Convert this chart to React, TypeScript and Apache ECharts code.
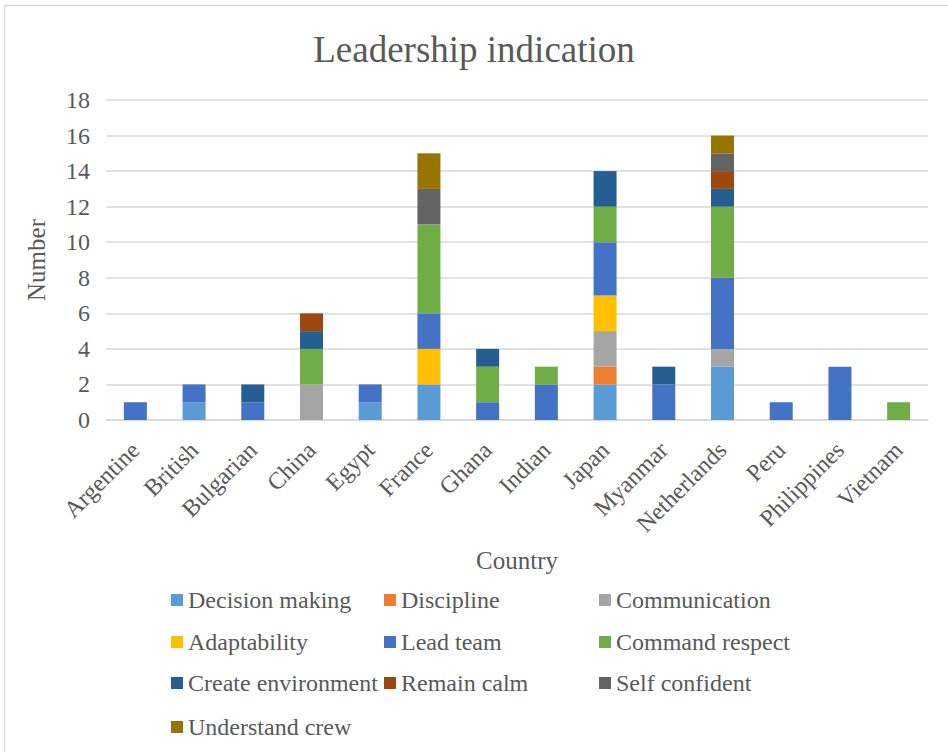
import React, { useEffect, useRef } from "react";
import * as echarts from "echarts";

const categories = [
  "Argentine", "British", "Bulgarian", "China", "Egypt", "France", "Ghana",
  "Indian", "Japan", "Myanmar", "Netherlands", "Peru", "Philippines", "Vietnam",
];

const decisionMaking = [0, 1, 0, 0, 1, 2, 0, 0, 2, 0, 3, 0, 0, 0];
const discipline = [0, 0, 0, 0, 0, 0, 0, 0, 1, 0, 0, 0, 0, 0];
const communication = [0, 0, 0, 2, 0, 0, 0, 0, 2, 0, 1, 0, 0, 0];
const adaptability = [0, 0, 0, 0, 0, 2, 0, 0, 2, 0, 0, 0, 0, 0];
const leadTeam = [1, 1, 1, 0, 1, 2, 1, 2, 3, 2, 4, 1, 3, 0];
const commandRespect = [0, 0, 0, 2, 0, 5, 2, 1, 2, 0, 4, 0, 0, 1];
const createEnvironment = [0, 0, 1, 1, 0, 0, 1, 0, 2, 1, 1, 0, 0, 0];
const remainCalm = [0, 0, 0, 1, 0, 0, 0, 0, 0, 0, 1, 0, 0, 0];
const selfConfident = [0, 0, 0, 0, 0, 2, 0, 0, 0, 0, 1, 0, 0, 0];
const understandCrew = [0, 0, 0, 0, 0, 2, 0, 0, 0, 0, 1, 0, 0, 0];

const seriesNames = [
  "Decision making", "Discipline", "Communication", "Adaptability", "Lead team",
  "Command respect", "Create environment", "Remain calm", "Self confident", "Understand crew",
];
const seriesData = [
  decisionMaking, discipline, communication, adaptability, leadTeam,
  commandRespect, createEnvironment, remainCalm, selfConfident, understandCrew,
];
const colors = [
  "#5B9BD5", "#ED7D31", "#A5A5A5", "#FFC000", "#4472C4",
  "#70AD47", "#255E91", "#9E480E", "#636363", "#997300",
];

const FONT = "'Liberation Serif', 'Times New Roman', serif";
const TEXT = "#595959";

const legendCols = [171, 384, 599];
const legendRows = [600, 642, 683, 727];

export default function App() {
  const ref = useRef<HTMLDivElement>(null);
  useEffect(() => {
    if (!ref.current) return;
    const chart = echarts.init(ref.current, undefined, { renderer: "svg" });
    const legends = seriesNames.map((name, i) => ({
      data: [name],
      left: legendCols[i % 3],
      top: legendRows[Math.floor(i / 3)] - 12,
      itemWidth: 12,
      itemHeight: 12,
      icon: "rect",
      selectedMode: false,
      padding: 0,
      textStyle: { fontFamily: FONT, fontSize: 24, color: TEXT, lineHeight: 24, padding: [0, 0, 0, 0] },
    }));
    chart.setOption({
      animation: false,
      backgroundColor: "#ffffff",
      color: colors,
      title: {
        text: "Leadership indication",
        left: "center",
        top: 26,
        textStyle: { fontFamily: FONT, fontSize: 37, fontWeight: "normal", color: TEXT },
      },
      legend: legends,
      graphic: [
        {
          type: "rect",
          shape: { x: 4.5, y: 5.5, width: 960, height: 800 },
          style: { fill: "none", stroke: "#D9D9D9", lineWidth: 1.5 },
          silent: true,
        },
      ],
      grid: { left: 106, right: 20, top: 100, bottom: 332 },
      xAxis: {
        type: "category",
        data: categories,
        name: "Country",
        nameLocation: "middle",
        nameGap: 128,
        nameTextStyle: { fontFamily: FONT, fontSize: 25, color: TEXT },
        axisLine: { lineStyle: { color: "#D9D9D9", width: 1.5 } },
        axisTick: { show: false },
        axisLabel: {
          rotate: 45,
          interval: 0,
          margin: 26,
          fontFamily: FONT,
          fontSize: 24,
          color: TEXT,
        },
      },
      yAxis: {
        type: "value",
        min: 0,
        max: 18,
        interval: 2,
        name: "Number",
        nameLocation: "middle",
        nameGap: 57,
        nameTextStyle: { fontFamily: FONT, fontSize: 25, color: TEXT },
        axisLine: { show: false },
        axisTick: { show: false },
        splitLine: { lineStyle: { color: "#D9D9D9", width: 1.5 } },
        axisLabel: { margin: 16, fontFamily: FONT, fontSize: 24, color: TEXT },
      },
      series: seriesNames.map((name, i) => ({
        name,
        type: "bar",
        stack: "total",
        barWidth: 23,
        data: seriesData[i],
        itemStyle: { color: colors[i] },
      })),
    });
    return () => chart.dispose();
  }, []);
  return (
    <div
      ref={ref}
      style={{ position: "fixed", left: 0, top: 0, width: 948, height: 752, background: "#fff" }}
    />
  );
}
